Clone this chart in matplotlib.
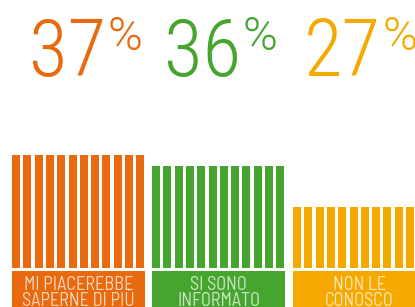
import matplotlib
matplotlib.use("Agg")
import matplotlib.pyplot as plt

# ---- data ----
categories = ["MI PIACEREBBE\nSAPERNE DI PIÙ", "SI SONO\nINFORMATO", "NON LE\nCONOSCO"]
percentages = [37, 36, 27]
bar_heights = [113, 102, 61]   # visual bar heights
colors = ["#E9690F", "#45A52F", "#F5A800"]

# ---- layout (pixel-like coordinates) ----
W, H = 415, 307
group_left = [12, 152, 293]
number_left = [29, 164, 304]
n_stripes = 12
pitch = 11.3
stripe_w = 8.0
box_w = 133
baseline_px = 268
box_top_px = 271

fig = plt.figure(figsize=(W / 100, H / 100), dpi=100)
ax = fig.add_axes([0, 0, 1, 1])
ax.set_xlim(0, W)
ax.set_ylim(baseline_px - H, baseline_px)
ax.axis("off")


def ypix(p):
    return baseline_px - p


num_font = ["Roboto Condensed", "Roboto", "DejaVu Sans"]
pct_font = ["Roboto", "DejaVu Sans"]
lab_font = ["Barlow Semi Condensed", "Roboto Condensed", "DejaVu Sans"]

fig.canvas.draw()
renderer = fig.canvas.get_renderer()

for x0, nx, h, c, pct, cat in zip(group_left, number_left, bar_heights, colors, percentages, categories):
    xs = [x0 + i * pitch for i in range(n_stripes)]
    ax.bar(xs, [h] * n_stripes, width=stripe_w, bottom=0, align="edge", color=c, linewidth=0)
    # label box
    ax.bar([x0], [ypix(box_top_px) - ypix(H + 5)], width=box_w, bottom=ypix(H + 5),
           align="edge", color=c, linewidth=0)
    for li, line in enumerate(cat.split("\n")):
        ax.text(x0 + box_w / 2, ypix(290.5 + 16 * li), line, ha="center", va="baseline",
                fontsize=13.2, family=lab_font, fontweight=400, color="white", alpha=0.72)
    # big numbers
    t = ax.text(nx, ypix(76), str(pct), ha="left", va="baseline",
                fontsize=57, family=num_font, fontweight=300, color=c)
    bb = t.get_window_extent(renderer=renderer)
    x_end = ax.transData.inverted().transform((bb.x1, bb.y0))[0]
    ax.text(x_end + 1, ypix(50), "%", ha="left", va="baseline",
            fontsize=34, family=pct_font, fontweight=300, color=c)

fig.savefig("out.png", dpi=100)
